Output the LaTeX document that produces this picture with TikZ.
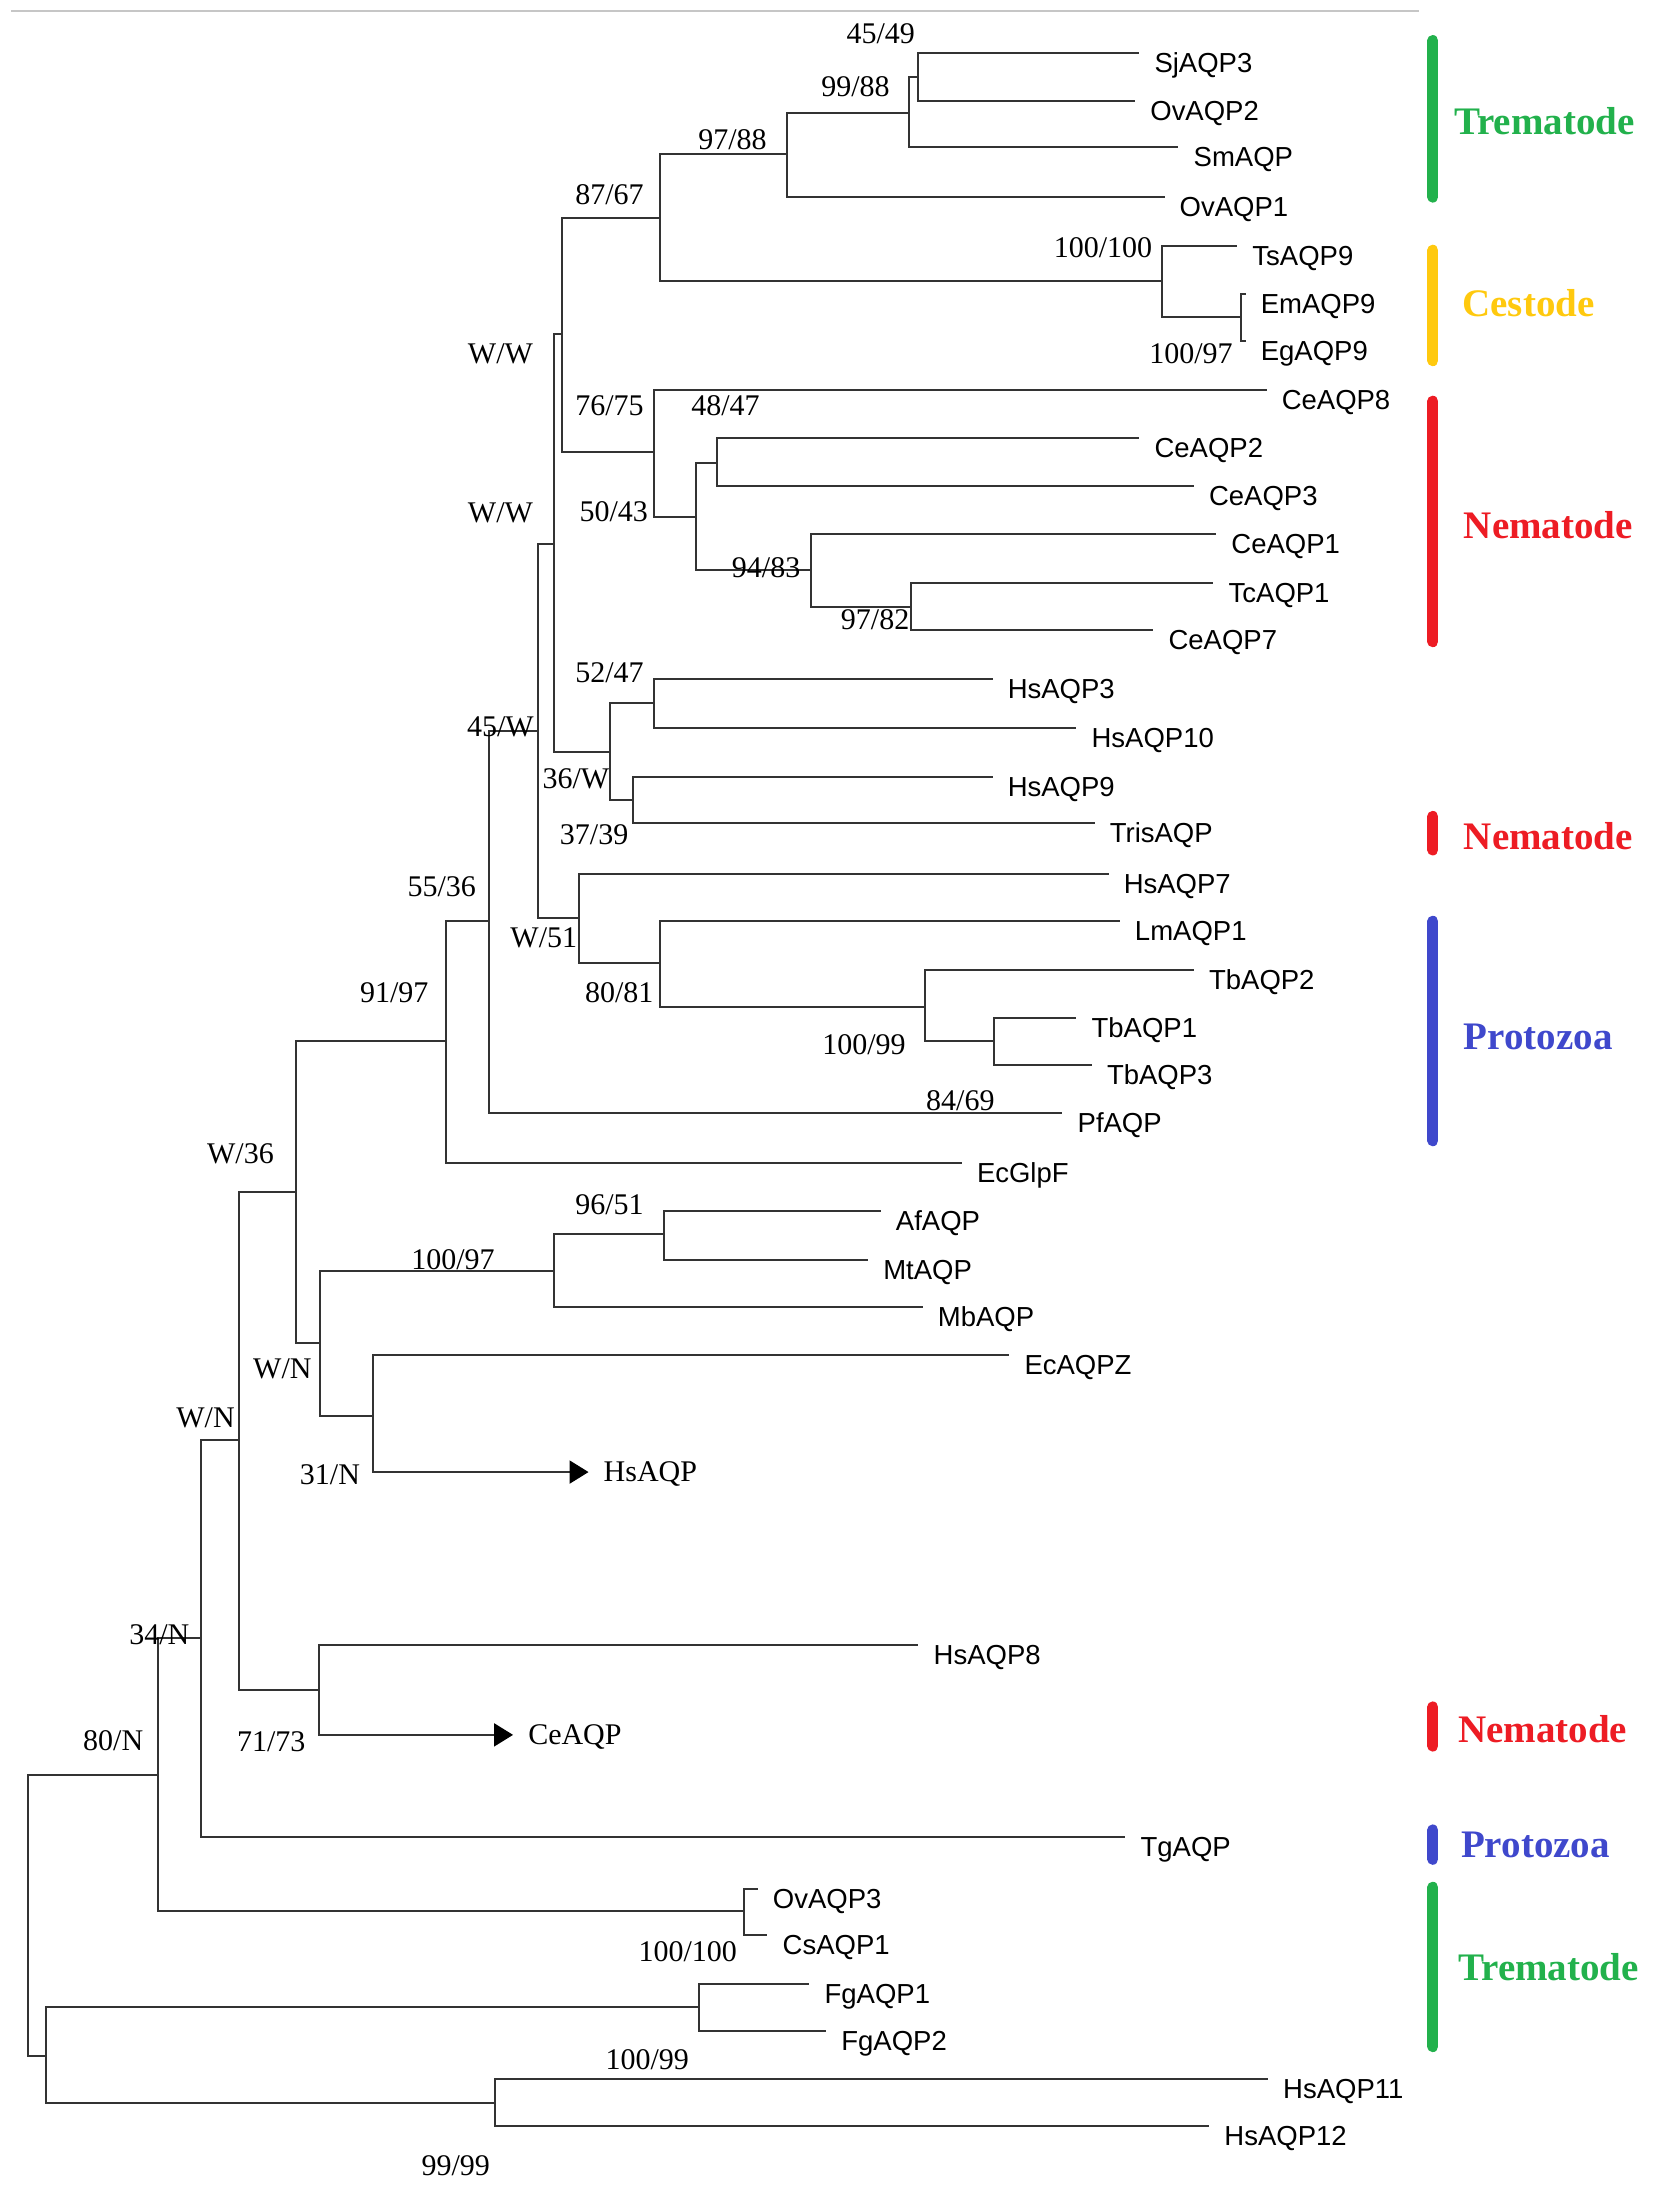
\documentclass[tikz,border=0pt]{standalone}
\usepackage{fontspec}
\setmainfont{Liberation Serif}
\setsansfont{Liberation Sans}
\usetikzlibrary{arrows.meta}
\definecolor{trem}{HTML}{22B14C}
\definecolor{cest}{HTML}{FFC90E}
\definecolor{nema}{HTML}{ED1C24}
\definecolor{prot}{HTML}{3F48CC}
\definecolor{branch}{HTML}{333333}
\tikzset{
  leaf/.style={anchor=base west,inner sep=0pt,xshift=15pt,yshift=-19.5pt,
    font=\fontsize{27.5}{30}\sffamily},
  fold/.style={anchor=west,inner sep=0pt,xshift=15pt,yshift=-2pt,
    font=\fontsize{30}{32}\selectfont},
  boot/.style={inner sep=0pt,font=\fontsize{30}{32}\selectfont},
  clade/.style={anchor=west,inner sep=0pt,font=\fontsize{39}{42}\bfseries},
  bar/.style={line width=11pt,line cap=round},
  edge/.style={draw=branch,line width=2pt},
  tri/.style={-{Triangle[length=19pt,width=23pt,color=black]}}
}
\begin{document}
\begin{tikzpicture}[x=1.398pt,y=-1.398pt]
      \useasboundingbox (0,0) rectangle (1183,1568);
      \draw[gray!45,line width=2.5pt] (8,8) -- (1015,8);
      \draw
        (815,38) coordinate (SjAQP3) node[leaf] (lSjAQP3) {SjAQP3}
        (812,72) coordinate (OvAQP2) node[leaf] (lOvAQP2) {OvAQP2}
        (843,105) coordinate (SmAQP) node[leaf] (lSmAQP) {SmAQP}
        (833,141) coordinate (OvAQP1) node[leaf] (lOvAQP1) {OvAQP1}
        (885,176) coordinate (TsAQP9) node[leaf] (lTsAQP9) {TsAQP9}
        (891,210) coordinate (EmAQP9) node[leaf] (lEmAQP9) {EmAQP9}
        (891,244) coordinate (EgAQP9) node[leaf] (lEgAQP9) {EgAQP9}
        (906,279) coordinate (CeAQP8) node[leaf] (lCeAQP8) {CeAQP8}
        (815,313) coordinate (CeAQP2) node[leaf] (lCeAQP2) {CeAQP2}
        (854,348) coordinate (CeAQP3) node[leaf] (lCeAQP3) {CeAQP3}
        (870,382) coordinate (CeAQP1) node[leaf] (lCeAQP1) {CeAQP1}
        (868,417) coordinate (TcAQP1) node[leaf] (lTcAQP1) {TcAQP1}
        (825,451) coordinate (CeAQP7) node[leaf] (lCeAQP7) {CeAQP7}
        (710,486) coordinate (HsAQP3) node[leaf] (lHsAQP3) {HsAQP3}
        (770,521) coordinate (HsAQP10) node[leaf] (lHsAQP10) {HsAQP10}
        (710,556) coordinate (HsAQP9) node[leaf] (lHsAQP9) {HsAQP9}
        (783,589) coordinate (TrisAQP) node[leaf] (lTrisAQP) {TrisAQP}
        (793,625) coordinate (HsAQP7) node[leaf] (lHsAQP7) {HsAQP7}
        (801,659) coordinate (LmAQP1) node[leaf] (lLmAQP1) {LmAQP1}
        (854,694) coordinate (TbAQP2) node[leaf] (lTbAQP2) {TbAQP2}
        (770,728) coordinate (TbAQP1) node[leaf] (lTbAQP1) {TbAQP1}
        (781,762) coordinate (TbAQP3) node[leaf] (lTbAQP3) {TbAQP3}
        (760,796) coordinate (PfAQP) node[leaf] (lPfAQP) {PfAQP}
        (688,832) coordinate (EcGlpF) node[leaf] (lEcGlpF) {EcGlpF}
        (630,866) coordinate (AfAQP) node[leaf] (lAfAQP) {AfAQP}
        (621,901) coordinate (MtAQP) node[leaf] (lMtAQP) {MtAQP}
        (660,935) coordinate (MbAQP) node[leaf] (lMbAQP) {MbAQP}
        (722,969) coordinate (EcAQPZ) node[leaf] (lEcAQPZ) {EcAQPZ}
        (421,1053) coordinate (HsAQP) node[fold] (lHsAQP) {HsAQP}
        (657,1177) coordinate (HsAQP8) node[leaf] (lHsAQP8) {HsAQP8}
        (367,1241) coordinate (CeAQP) node[fold] (lCeAQP) {CeAQP}
        (805,1314) coordinate (TgAQP) node[leaf] (lTgAQP) {TgAQP}
        (542,1351) coordinate (OvAQP3) node[leaf] (lOvAQP3) {OvAQP3}
        (549,1384) coordinate (CsAQP1) node[leaf] (lCsAQP1) {CsAQP1}
        (579,1419) coordinate (FgAQP1) node[leaf] (lFgAQP1) {FgAQP1}
        (591,1453) coordinate (FgAQP2) node[leaf] (lFgAQP2) {FgAQP2}
        (907,1487) coordinate (HsAQP11) node[leaf] (lHsAQP11) {HsAQP11}
        (865,1521) coordinate (HsAQP12) node[leaf] (lHsAQP12) {HsAQP12};
      \draw
        (657,55) coordinate (sjov)
        (650,81) coordinate (sm)
        (563,110) coordinate (ov1)
        (888,227) coordinate (emeg)
        (831,201) coordinate (cest)
        (472,156) coordinate (platy)
        (513,331) coordinate (ce23)
        (652,434) coordinate (tcce7)
        (580,408) coordinate (ce1)
        (498,370) coordinate (ce5043)
        (468,323) coordinate (ce8)
        (402,239) coordinate (wwup)
        (468,503) coordinate (hs310)
        (453,572) coordinate (hs9tris)
        (436,538) coordinate (hs36)
        (396,389) coordinate (wwlo)
        (711,745) coordinate (tb13)
        (662,720) coordinate (tb2)
        (472,689) coordinate (lm)
        (414,657) coordinate (hs7)
        (385,523) coordinate (mid)
        (350,659) coordinate (pf)
        (319,745) coordinate (ecg)
        (475,883) coordinate (afmt)
        (396,909) coordinate (mb)
        (267,1013) coordinate (ecz)
        (229,961) coordinate (wnup)
        (212,853) coordinate (w36)
        (228,1209) coordinate (hs8)
        (171,1030) coordinate (wnlo)
        (144,1172) coordinate (tg)
        (532,1367) coordinate (ovcs)
        (113,1270) coordinate (n80)
        (500,1436) coordinate (fg)
        (354,1504) coordinate (hs1112)
        (33,1471) coordinate (low)
        (20,1370) coordinate (root);
      \begin{scope}[edge]
        \draw (sjov) |- (SjAQP3);
        \draw (sjov) |- (OvAQP2);
        \draw (sm) |- (sjov);
        \draw (sm) |- (SmAQP);
        \draw (ov1) |- (sm);
        \draw (ov1) |- (OvAQP1);
        \draw (emeg) |- (EmAQP9);
        \draw (emeg) |- (EgAQP9);
        \draw (cest) |- (TsAQP9);
        \draw (cest) |- (emeg);
        \draw (platy) |- (ov1);
        \draw (platy) |- (cest);
        \draw (ce23) |- (CeAQP2);
        \draw (ce23) |- (CeAQP3);
        \draw (tcce7) |- (TcAQP1);
        \draw (tcce7) |- (CeAQP7);
        \draw (ce1) |- (CeAQP1);
        \draw (ce1) |- (tcce7);
        \draw (ce5043) |- (ce23);
        \draw (ce5043) |- (ce1);
        \draw (ce8) |- (CeAQP8);
        \draw (ce8) |- (ce5043);
        \draw (wwup) |- (platy);
        \draw (wwup) |- (ce8);
        \draw (hs310) |- (HsAQP3);
        \draw (hs310) |- (HsAQP10);
        \draw (hs9tris) |- (HsAQP9);
        \draw (hs9tris) |- (TrisAQP);
        \draw (hs36) |- (hs310);
        \draw (hs36) |- (hs9tris);
        \draw (wwlo) |- (wwup);
        \draw (wwlo) |- (hs36);
        \draw (tb13) |- (TbAQP1);
        \draw (tb13) |- (TbAQP3);
        \draw (tb2) |- (TbAQP2);
        \draw (tb2) |- (tb13);
        \draw (lm) |- (LmAQP1);
        \draw (lm) |- (tb2);
        \draw (hs7) |- (HsAQP7);
        \draw (hs7) |- (lm);
        \draw (mid) |- (wwlo);
        \draw (mid) |- (hs7);
        \draw (pf) |- (mid);
        \draw (pf) |- (PfAQP);
        \draw (ecg) |- (pf);
        \draw (ecg) |- (EcGlpF);
        \draw (afmt) |- (AfAQP);
        \draw (afmt) |- (MtAQP);
        \draw (mb) |- (afmt);
        \draw (mb) |- (MbAQP);
        \draw (ecz) |- (EcAQPZ);
        \draw[tri] (ecz) |- (HsAQP);
        \draw (wnup) |- (mb);
        \draw (wnup) |- (ecz);
        \draw (w36) |- (ecg);
        \draw (w36) |- (wnup);
        \draw (hs8) |- (HsAQP8);
        \draw[tri] (hs8) |- (CeAQP);
        \draw (wnlo) |- (w36);
        \draw (wnlo) |- (hs8);
        \draw (tg) |- (wnlo);
        \draw (tg) |- (TgAQP);
        \draw (ovcs) |- (OvAQP3);
        \draw (ovcs) |- (CsAQP1);
        \draw (n80) |- (tg);
        \draw (n80) |- (ovcs);
        \draw (fg) |- (FgAQP1);
        \draw (fg) |- (FgAQP2);
        \draw (hs1112) |- (HsAQP11);
        \draw (hs1112) |- (HsAQP12);
        \draw (low) |- (fg);
        \draw (low) |- (hs1112);
        \draw (root) |- (n80);
        \draw (root) |- (low);
      \end{scope}
      \draw
        (630,24) node[boot] (b1) {45/49}
        (612,62) node[boot] (b2) {99/88}
        (524,100) node[boot] (b3) {97/88}
        (436,139) node[boot] (b4) {87/67}
        (789,177) node[boot] (b5) {100/100}
        (852,253) node[boot] (b6) {100/97}
        (358,253) node[boot] (b7) {W/W}
        (436,290) node[boot] (b8) {76/75}
        (519,290) node[boot] (b9) {48/47}
        (358,367) node[boot] (b10) {W/W}
        (439,366) node[boot] (b11) {50/43}
        (548,406) node[boot] (b12) {94/83}
        (626,443) node[boot] (b13) {97/82}
        (436,481) node[boot] (b14) {52/47}
        (358,520) node[boot] (b15) {45/W}
        (412,557) node[boot] (b16) {36/W}
        (425,597) node[boot] (b17) {37/39}
        (316,634) node[boot] (b18) {55/36}
        (389,671) node[boot] (b19) {W/51}
        (282,710) node[boot] (b20) {91/97}
        (443,710) node[boot] (b21) {80/81}
        (618,747) node[boot] (b22) {100/99}
        (687,787) node[boot] (b23) {84/69}
        (172,825) node[boot] (b24) {W/36}
        (436,862) node[boot] (b25) {96/51}
        (324,901) node[boot] (b26) {100/97}
        (202,979) node[boot] (b27) {W/N}
        (147,1014) node[boot] (b28) {W/N}
        (236,1055) node[boot] (b29) {31/N}
        (114,1169) node[boot] (b30) {34/N}
        (81,1245) node[boot] (b31) {80/N}
        (194,1246) node[boot] (b32) {71/73}
        (492,1396) node[boot] (b33) {100/100}
        (463,1473) node[boot] (b34) {100/99}
        (326,1549) node[boot] (b35) {99/99};
      \draw[bar,trem] (1025,29) -- (1025,141);
      \draw[bar,cest] (1025,179) -- (1025,258);
      \draw[bar,nema] (1025,287) -- (1025,459);
      \draw[bar,nema] (1025,584) -- (1025,608);
      \draw[bar,prot] (1025,659) -- (1025,816);
      \draw[bar,nema] (1025,1221) -- (1025,1249);
      \draw[bar,prot] (1025,1309) -- (1025,1330);
      \draw[bar,trem] (1025,1350) -- (1025,1464);
      \draw
        (1040,87) node[clade,trem] (c1) {Trematode}
        (1046,217) node[clade,cest] (c2) {Cestode}
        (1047,376) node[clade,nema] (c3) {Nematode}
        (1047,598) node[clade,nema] (c4) {Nematode}
        (1047,742) node[clade,prot] (c5) {Protozoa}
        (1043,1237) node[clade,nema] (c6) {Nematode}
        (1045,1320) node[clade,prot] (c7) {Protozoa}
        (1043,1407) node[clade,trem] (c8) {Trematode};
    \end{tikzpicture}
\end{document}
